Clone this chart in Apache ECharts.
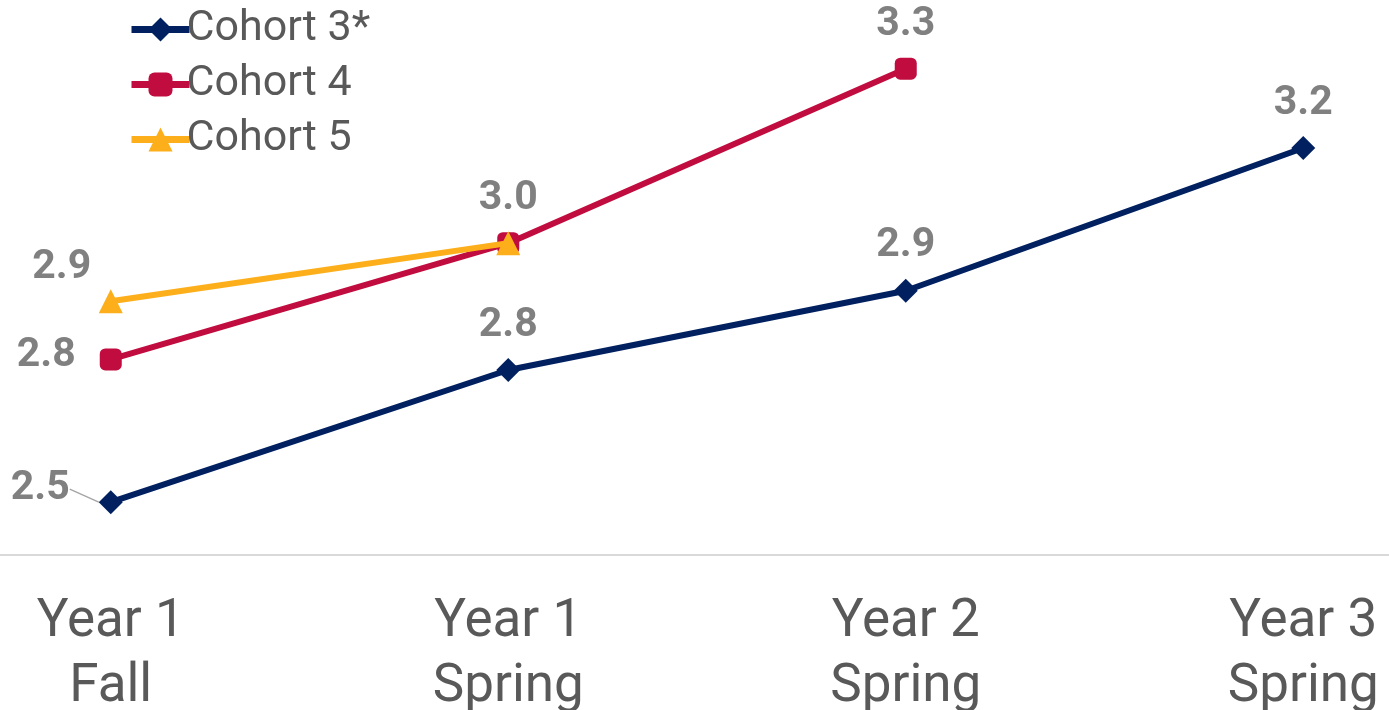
<!DOCTYPE html>
<html>
<head>
<meta charset="utf-8">
<script src="https://cdn.jsdelivr.net/npm/echarts@6/dist/echarts.min.js"></script>
<style>
html,body{margin:0;padding:0;background:#fff;}
#chart{width:1389px;height:710px;}
</style>
</head>
<body>
<div id="chart"></div>
<script>
var categories = ['Year 1\nFall', 'Year 1\nSpring', 'Year 2\nSpring', 'Year 3\nSpring'];
var seriesNames = ['Cohort 3*', 'Cohort 4', 'Cohort 5'];
var cohort3 = [2.51, 2.76, 2.91, 3.18];
var cohort4 = [2.78, 3.00, 3.33, null];
var cohort5 = [2.89, 3.00, null, null];

var colors = ['#002060', '#C00C3E', '#FDAF1B'];
var labelColor = '#808080';

function fmt(p) { return p.value == null ? '' : Number(p.value).toFixed(1); }

var baseLabel = {
  show: true, position: 'top', distance: 12, formatter: fmt,
  fontFamily: 'Roboto', fontWeight: 'bold', fontSize: 41, lineHeight: 41, color: labelColor
};

function mk(arr, custom) {
  return arr.map(function (v, i) {
    var item = { value: v };
    if (custom[i]) { for (var k in custom[i]) item[k] = custom[i][k]; }
    return item;
  });
}

var leader = { show: true, lineStyle: { color: '#A6A6A6', width: 1.5 } };

var chart = echarts.init(document.getElementById('chart'));
chart.setOption({
  animation: false,
  color: colors,
  legend: {
    orient: 'vertical', left: 123, top: 3,
    itemWidth: 58, itemHeight: 30, itemGap: 12,
    lineStyle: { width: 7 },
    textStyle: { fontFamily: 'Roboto', fontSize: 43, lineHeight: 43, color: '#595959', padding: [0, 0, 0, -8] },
    data: seriesNames
  },
  grid: { left: -88, right: -113, top: 0, bottom: 155, containLabel: false, outerBoundsMode: 'none' },
  xAxis: {
    type: 'category', data: categories, boundaryGap: true,
    axisLine: { show: true, lineStyle: { color: '#D9D9D9', width: 2 } },
    axisTick: { show: false },
    axisLabel: { interval: 0, margin: 35, fontFamily: 'Roboto', fontSize: 53, lineHeight: 65, color: '#595959' }
  },
  yAxis: {
    type: 'value', min: 2.41, max: 3.46, show: false,
    splitLine: { show: false }
  },
  series: [
    {
      name: seriesNames[0], type: 'line', symbol: 'diamond', symbolSize: 24,
      lineStyle: { width: 6 }, z: 2,
      label: baseLabel,
      labelLayout: function (p) { return p.dataIndex === 0 ? { dx: -19, dy: -13 } : {}; },
      data: mk(cohort3, { 0: { label: { position: 'left', distance: 10 }, labelLine: leader } })
    },
    {
      name: seriesNames[1], type: 'line', symbol: 'roundRect', symbolSize: 22,
      lineStyle: { width: 6 }, z: 3,
      label: baseLabel,
      data: mk(cohort4, {
        0: { label: { position: 'left', distance: 24, offset: [0, -4] } },
        1: { label: { show: false } }
      })
    },
    {
      name: seriesNames[2], type: 'line', symbol: 'triangle', symbolSize: 24,
      lineStyle: { width: 6 }, z: 4,
      label: baseLabel,
      data: mk(cohort5, { 0: { label: { position: 'top', distance: 1, offset: [-49, 0] } } })
    }
  ]
});
</script>
</body>
</html>
